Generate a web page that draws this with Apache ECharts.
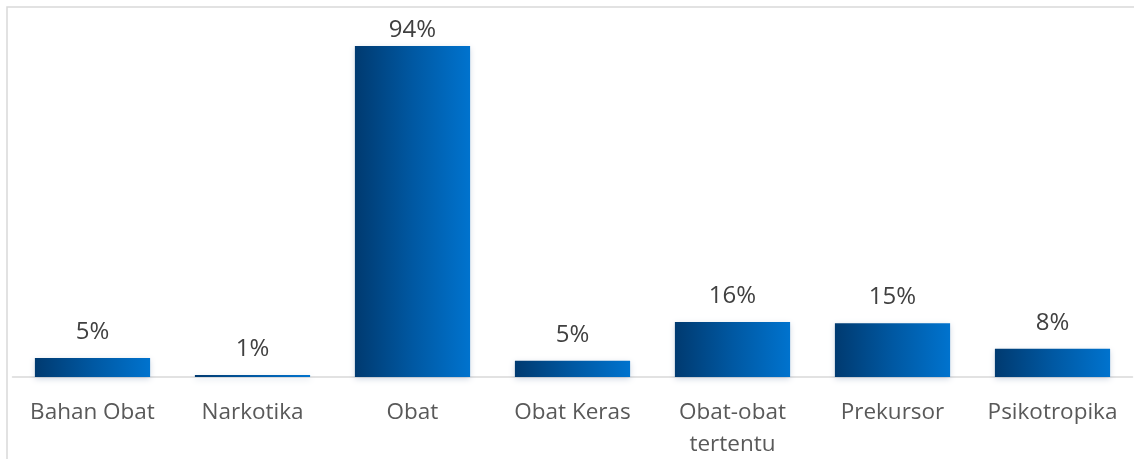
<!DOCTYPE html>
<html>
<head>
<meta charset="utf-8">
<style>
  html, body { margin: 0; padding: 0; background: #ffffff; overflow: hidden; }
  #chart { width: 1134px; height: 459px; }
</style>
<script src="https://cdn.jsdelivr.net/npm/echarts@6/dist/echarts.min.js"></script>
</head>
<body>
<div id="chart"></div>
<script>
// Share of product types (%)
const categories = ['Bahan Obat', 'Narkotika', 'Obat', 'Obat Keras', 'Obat-obat\ntertentu', 'Prekursor', 'Psikotropika'];
const shares = [5.4, 0.6, 94, 4.6, 15.6, 15.3, 8];

const barGradient = new echarts.graphic.LinearGradient(0, 0, 1, 0, [
  { offset: 0, color: '#003a70' },
  { offset: 0.5, color: '#0058a2' },
  { offset: 1, color: '#0073ce' }
]);

const chart = echarts.init(document.getElementById('chart'), null, { renderer: 'canvas' });

chart.setOption({
  animation: false,
  backgroundColor: '#ffffff',
  graphic: [{
    type: 'rect',
    shape: { x: 7, y: 7, width: 1140, height: 470 },
    style: { fill: 'none', stroke: '#d9d9d9', lineWidth: 1.5 },
    silent: true,
    z: -1
  }],
  grid: {
    left: 12.5, right: 1.5, top: 25, bottom: 82,
    containLabel: false,
    outerBoundsMode: 'none'
  },
  xAxis: {
    type: 'category',
    data: categories,
    axisLine: { show: true, lineStyle: { color: '#d9d9d9', width: 1.5 } },
    axisTick: { show: false },
    axisLabel: {
      interval: 0,
      margin: 20,
      color: '#595959',
      fontFamily: 'Open Sans',
      fontSize: 22.5,
      lineHeight: 32
    }
  },
  yAxis: {
    type: 'value',
    min: 0,
    max: 100,
    show: false,
    splitLine: { show: false }
  },
  series: [{
    type: 'bar',
    data: shares.map((v, i) => i === 2
      ? { value: v, label: { distance: 4 } }
      : v),
    barCategoryGap: '28%',
    itemStyle: {
      color: barGradient,
      shadowBlur: 6,
      shadowColor: 'rgba(0, 40, 100, 0.18)',
      shadowOffsetY: 2
    },
    label: {
      show: true,
      position: 'top',
      distance: 14,
      color: '#404040',
      fontFamily: 'Open Sans',
      fontSize: 24,
      formatter: p => Math.round(p.value) + '%'
    }
  }]
});
</script>
</body>
</html>
